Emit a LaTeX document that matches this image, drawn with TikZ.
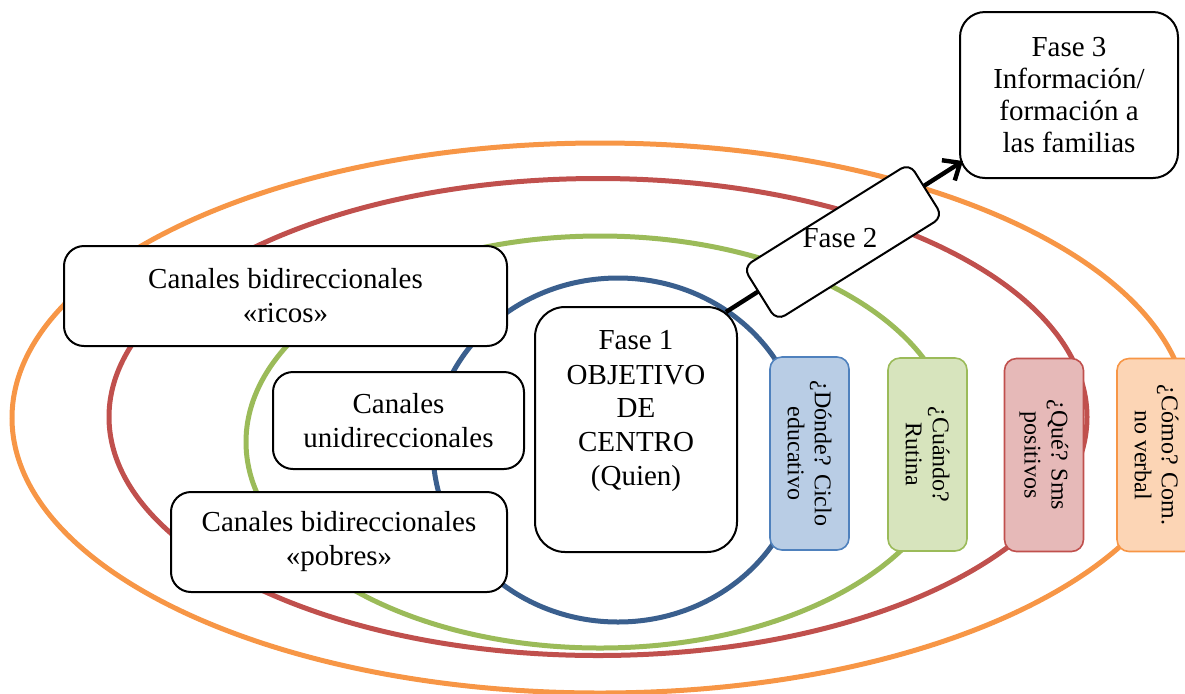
\documentclass[tikz,border=0pt]{standalone}
\usepackage{fontspec}
\setmainfont{Liberation Serif}
\usetikzlibrary{arrows.meta}
\definecolor{ringorange}{HTML}{F79646}
\definecolor{ringred}{HTML}{C0504D}
\definecolor{ringgreen}{HTML}{9BBB59}
\definecolor{ringblue}{HTML}{3A5F8E}
\definecolor{bluefill}{HTML}{B9CDE5}
\definecolor{blueline}{HTML}{4F81BD}
\definecolor{greenfill}{HTML}{D7E4BD}
\definecolor{redfill}{HTML}{E6B9B8}
\definecolor{orangefill}{HTML}{FCD5B5}
\tikzset{
	ring/.style={line width=2.5pt},
	txt/.style={align=center, font=\fontsize{14.5}{17}\selectfont},
	box/.style={txt, draw, line width=1pt, fill=white, rounded corners=10pt},
	tag/.style={align=center, font=\fontsize{12}{13.5}\selectfont,
		line width=0.8pt, rounded corners=6pt, rotate=-90,
		minimum width=96.5pt, minimum height=39.5pt}
}

\begin{document}
\begin{tikzpicture}[x=0.5pt,y=-0.5pt]
		\clip (0,0) rectangle (1185,693);
		% rings
		\draw[ring, ringorange] (600,418) ellipse [x radius=588, y radius=275];
		\draw[ring, ringred] (598,417) ellipse [x radius=489, y radius=238.5];
		\draw[ring, ringgreen] (600,442) ellipse [x radius=354, y radius=206];
		\draw[ring, ringblue] (618,450) ellipse [x radius=185, y radius=172];

		% channels
		\node[box, minimum width=221.5pt, minimum height=50pt] (ricos) at (285.5,296)
		{Canales bidireccionales\\«ricos»};
		\node[box, minimum width=125.5pt, minimum height=48.5pt] (uni) at (398.5,420.5)
		{Canales\\unidireccionales};
		\node[box, minimum width=168pt, minimum height=50pt] (pobres) at (339,542)
		{Canales bidireccionales\\«pobres»};

		% Fase 1
		\node[box, rounded corners=15pt, minimum width=101pt, minimum height=122.5pt] (fase1) at (636,429.5) {};
		\node[txt] (fase1txt) at (636,411.5) {Fase 1\\OBJETIVO\\DE\\CENTRO\\(Quien)};

		% Fase 3
		\node[box, font=\fontsize{14.5}{16}\selectfont, rounded corners=12.5pt,
		minimum width=109pt, minimum height=83pt] (fase3) at (1069,95)
		{Fase 3\\Información/\\formación a\\las familias};

		% arrow 1 -> 3
		\draw[line width=2.2pt, -{Straight Barb[length=7pt,width=12pt]}]
		([xshift=-6pt,yshift=-3pt]fase1.north east) -- ([xshift=2pt,yshift=9pt]fase3.south west);

		% Fase 2
		\node[box, rounded corners=5pt, rotate=32,
		minimum width=98pt, minimum height=31.5pt] (fase2) at (843,242) {};
		\node[txt] (fase2txt) at (840,238) {Fase 2};

		% questions
		\node[tag, draw=blueline, fill=bluefill] (donde) at (809.5,453.5) {¿Dónde? Ciclo\\educativo};
		\node[tag, draw=ringgreen, fill=greenfill] (cuando) at (927.5,454.5) {¿Cuándo?\\Rutina};
		\node[tag, draw=ringred, fill=redfill] (que) at (1044,455) {¿Qué? Sms\\positivos};
		\node[tag, draw=ringorange, fill=orangefill] (como) at (1156.5,455) {¿Cómo? Com.\\no verbal};
\end{tikzpicture}
\end{document}
